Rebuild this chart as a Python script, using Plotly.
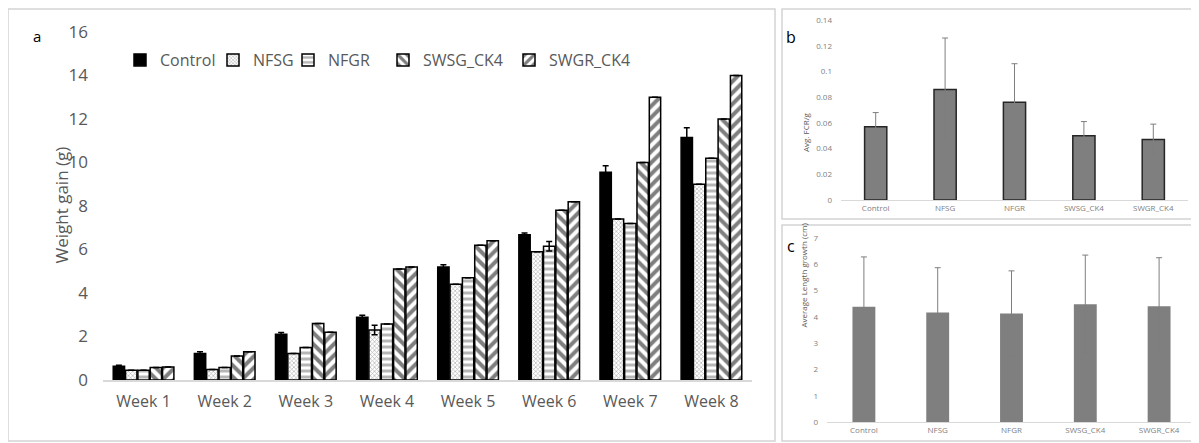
import plotly.graph_objects as go

W, H = 1199, 443
OFF = 8  # page body margin in the rendered page

weeks = ["Week 1", "Week 2", "Week 3", "Week 4", "Week 5", "Week 6", "Week 7", "Week 8"]
series_names = ["Control", "NFSG", "NFGR", "SWSG_CK4", "SWGR_CK4"]
control = [0.63, 1.22, 2.1, 2.88, 5.2, 6.68, 9.55, 11.15]
nfsg = [0.45, 0.48, 1.22, 2.3, 4.4, 5.9, 7.4, 9.0]
nfgr = [0.45, 0.58, 1.5, 2.58, 4.7, 6.15, 7.2, 10.2]
swsg = [0.57, 1.1, 2.6, 5.1, 6.2, 7.8, 10.0, 12.0]
swgr = [0.6, 1.3, 2.2, 5.2, 6.4, 8.2, 13.0, 14.0]
control_err = [0.05, 0.08, 0.08, 0.1, 0.1, 0.08, 0.3, 0.45]
nfsg_err = [0.0, 0.0, 0.0, 0.22, 0.0, 0.0, 0.0, 0.0]
nfgr_err = [0.0, 0.0, 0.0, 0.0, 0.0, 0.22, 0.0, 0.0]
swsg_err = [0, 0, 0, 0, 0, 0, 0, 0]
swgr_err = [0, 0, 0, 0, 0, 0, 0, 0]

groups = ["Control", "NFSG", "NFGR", "SWSG_CK4", "SWGR_CK4"]
fcr = [0.057, 0.086, 0.076, 0.050, 0.047]
fcr_err = [0.011, 0.040, 0.030, 0.011, 0.012]
length = [4.38, 4.17, 4.13, 4.48, 4.4]
length_err = [1.9, 1.7, 1.62, 1.87, 1.85]

GRAY = "#595959"
LIGHT = "#7f7f7f"
FONT = "Open Sans"


def fx(px):
    return (px - OFF) / W


def fy(py):
    return 1 - (py - OFF) / H


fig = go.Figure()

styles = [
    dict(color="black", pattern=dict(shape="")),
    dict(color="white", pattern=dict(shape="x", fgcolor="#666666", bgcolor="white", size=3, solidity=0.4)),
    dict(color="white", pattern=dict(shape="-", fgcolor="#6e6e6e", bgcolor="white", size=6, solidity=0.5)),
    dict(color="white", pattern=dict(shape="\\", fgcolor="black", bgcolor="white", size=8, solidity=0.5)),
    dict(color="white", pattern=dict(shape="/", fgcolor="black", bgcolor="white", size=8, solidity=0.5)),
]
vals = [control, nfsg, nfgr, swsg, swgr]
errs = [control_err, nfsg_err, nfgr_err, swsg_err, swgr_err]
legend_ids = ["legend", "legend2", "legend3", "legend4", "legend5"]
for name, v, e, st, lg in zip(series_names, vals, errs, styles, legend_ids):
    fig.add_trace(go.Bar(
        x=weeks, y=v, name=name, xaxis="x", yaxis="y", legend=lg,
        marker=dict(color=st["color"], pattern=st["pattern"], line=dict(color="black", width=1.5)),
        error_y=dict(type="data", array=e, color="black", thickness=1.5, width=3, visible=True),
    ))

fig.add_trace(go.Bar(
    x=groups, y=fcr, xaxis="x2", yaxis="y2", showlegend=False, width=0.32,
    marker=dict(color="#7f7f7f", line=dict(color="#262626", width=1.5)),
    error_y=dict(type="data", array=fcr_err, color="#7f7f7f", thickness=1, width=3),
))
fig.add_trace(go.Bar(
    x=groups, y=length, xaxis="x3", yaxis="y3", showlegend=False, width=0.31,
    marker=dict(color="#7f7f7f", line=dict(width=0)),
    error_y=dict(type="data", array=length_err, color="#7f7f7f", thickness=1, width=3),
))

# legend text starts in the reference (page px)
legend_text_x = [157, 250, 325, 420, 546]
legends = {}
for lg, tx in zip(legend_ids, legend_text_x):
    legends[lg] = dict(orientation="h", xref="container", yref="container",
                       x=fx(tx - 37), y=fy(60), xanchor="left", yanchor="middle",
                       font=dict(size=16, color=GRAY, family=FONT), itemwidth=30,
                       bgcolor="rgba(0,0,0,0)", borderwidth=0)

common = dict(automargin=False, showgrid=False, zeroline=False, ticks="")

fig.update_layout(
    width=W, height=H,
    margin=dict(l=0, r=0, t=0, b=0, pad=0, autoexpand=False),
    paper_bgcolor="white", plot_bgcolor="white",
    barmode="group", bargap=0.24, bargroupgap=0.08,
    font=dict(family=FONT, color=GRAY),
    showlegend=True,
    xaxis=dict(domain=[fx(103), fx(752)], anchor="y", showline=True, linecolor="#d9d9d9", linewidth=1.5,
               tickfont=dict(size=16, color=GRAY), ticklabelstandoff=6, **common),
    yaxis=dict(domain=[fy(380), fy(32)], anchor="x", range=[0, 16], dtick=2, showline=False,
               tickfont=dict(size=17, color=GRAY), ticklabelstandoff=14, **common),
    xaxis2=dict(domain=[fx(841), fx(1188)], anchor="y2", showline=True, linecolor="#d9d9d9", linewidth=1,
                tickfont=dict(size=8, color=LIGHT), **common),
    yaxis2=dict(domain=[fy(200), fy(20)], anchor="x2", range=[0, 0.14], dtick=0.02, showline=False,
                tickfont=dict(size=8, color=LIGHT), ticklabelstandoff=8, **common),
    xaxis3=dict(domain=[fx(827), fx(1196)], anchor="y3", showline=True, linecolor="#d9d9d9", linewidth=1,
                tickfont=dict(size=8, color=LIGHT), **common),
    yaxis3=dict(domain=[fy(422), fy(238)], anchor="x3", range=[0, 7], dtick=1, showline=False,
                tickfont=dict(size=8, color=LIGHT), ticklabelstandoff=8, **common),
    shapes=[
        dict(type="rect", xref="paper", yref="paper", x0=0, x1=fx(775), y0=fy(441), y1=fy(9),
             line=dict(color="#d4d4d4", width=1.5)),
        dict(type="rect", xref="paper", yref="paper", x0=fx(782), x1=fx(1198), y0=fy(219), y1=fy(9),
             line=dict(color="#d4d4d4", width=1.5)),
        dict(type="rect", xref="paper", yref="paper", x0=fx(782), x1=fx(1198), y0=fy(441), y1=fy(225),
             line=dict(color="#d4d4d4", width=1.5)),
    ],
    annotations=[
        dict(text="a", x=fx(31), y=fy(24), xref="paper", yref="paper", showarrow=False,
             font=dict(size=15, color="black", family=FONT)),
        dict(text="b", x=fx(791), y=fy(24), xref="paper", yref="paper", showarrow=False,
             font=dict(size=16, color="black", family=FONT)),
        dict(text="c", x=fx(791), y=fy(246), xref="paper", yref="paper", showarrow=False,
             font=dict(size=16, color="black", family=FONT)),
        dict(text="Weight gain (g)", x=fx(47), y=fy(205), xref="paper", yref="paper", showarrow=False,
             textangle=-90, font=dict(size=17, color=GRAY, family=FONT)),
        dict(text="Avg. FCR/g", x=fx(805), y=fy(110), xref="paper", yref="paper", showarrow=False,
             textangle=-90, font=dict(size=8, color=GRAY, family=FONT)),
        dict(text="Average Length growth (cm)", x=fx(803), y=fy(330), xref="paper", yref="paper", showarrow=False,
             textangle=-90, font=dict(size=8, color=GRAY, family=FONT)),
    ],
    **legends,
)

fig.write_html("out.html")
